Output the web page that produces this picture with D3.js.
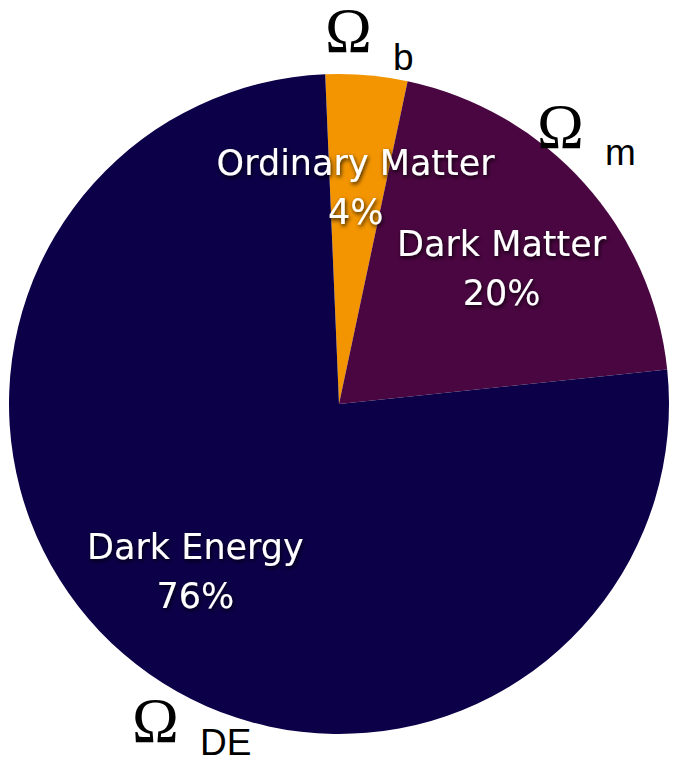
<!DOCTYPE html>
<html>
<head>
<meta charset="utf-8">
<script src="https://cdn.jsdelivr.net/npm/d3@7"></script>
<style>
  html, body { margin: 0; padding: 0; background: #fff; }
  svg { display: block; }
</style>
</head>
<body>
<svg id="chart" width="673" height="772"></svg>
<script>
// Composition of the universe
const components = ["Ordinary Matter", "Dark Matter", "Dark Energy"];
const shares = [4, 20, 76];
const percentLabels = ["4%", "20%", "76%"];
const symbolSubscripts = ["b", "m", "DE"];
const sliceColors = ["#f39500", "#4a0641", "#0c0048"];

const width = 673, height = 772;
const cx = 339, cy = 404, radius = 330;
const startOffset = -2.4 * Math.PI / 180;

const svg = d3.select("#chart");

// soft dark halo behind the in-slice labels
const defs = svg.append("defs");
const shadow = defs.append("filter").attr("id", "textShadow")
  .attr("x", "-20%").attr("y", "-40%").attr("width", "140%").attr("height", "180%");
shadow.append("feDropShadow")
  .attr("dx", 1).attr("dy", 2).attr("stdDeviation", 2)
  .attr("flood-color", "#000").attr("flood-opacity", 0.85);

const data = components.map((name, i) => ({
  name, value: shares[i], pct: percentLabels[i], sub: symbolSubscripts[i], color: sliceColors[i]
}));

const pie = d3.pie().sort(null).value(d => d.value)
  .startAngle(startOffset).endAngle(2 * Math.PI + startOffset);
const arcs = pie(data);

const arc = d3.arc().innerRadius(0).outerRadius(radius);

const g = svg.append("g").attr("transform", `translate(${cx},${cy})`);

g.selectAll("path.slice")
  .data(arcs)
  .join("path")
  .attr("class", "slice")
  .attr("d", arc)
  .attr("fill", d => d.data.color);

// in-slice labels: placed along each slice's mid-angle, nudged for readability
const labelRadius = d3.arc().innerRadius(235).outerRadius(235);
const labelNudge = [[-3, 5], [-12, 9], [10, -23]];

const labels = g.selectAll("g.label")
  .data(arcs)
  .join("g")
  .attr("class", "label")
  .attr("transform", (d, i) => {
    const [x, y] = labelRadius.centroid(d);
    return `translate(${x + labelNudge[i][0]},${y + labelNudge[i][1]})`;
  })
  .attr("filter", "url(#textShadow)")
  .style("font-family", "'DejaVu Sans', 'Noto Sans', sans-serif")
  .style("font-size", "35px")
  .attr("fill", "#fff")
  .attr("text-anchor", "middle");

labels.append("text").attr("y", 0).text(d => d.data.name);
labels.append("text").attr("y", 49).text(d => d.data.pct);

// density-parameter symbols outside the pie
const symbolPos = [[325, 52, 18], [537, 148, 17], [132, 742, 13]];
const symbols = svg.selectAll("g.symbol")
  .data(arcs)
  .join("g")
  .attr("class", "symbol")
  .attr("transform", (d, i) => `translate(${symbolPos[i][0]},${symbolPos[i][1]})`);

symbols.append("text")
  .style("font-family", "'Liberation Serif', 'DejaVu Serif', serif")
  .style("font-size", "63px")
  .attr("fill", "#000")
  .text("Ω");

symbols.append("text")
  .attr("x", 68)
  .attr("y", (d, i) => symbolPos[i][2])
  .style("font-family", "'Liberation Sans', Arial, sans-serif")
  .style("font-size", "37px")
  .attr("fill", "#000")
  .text(d => d.data.sub);
</script>
</body>
</html>
